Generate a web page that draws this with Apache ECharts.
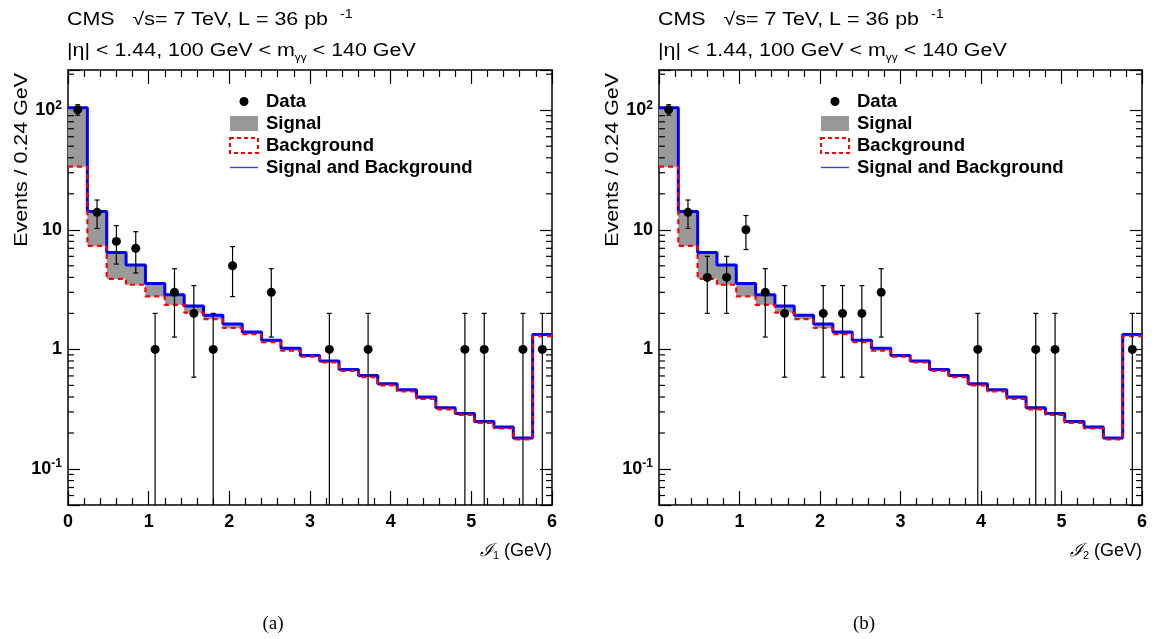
<!DOCTYPE html>
<html><head><meta charset="utf-8">
<script src="https://cdn.jsdelivr.net/npm/echarts@6/dist/echarts.min.js"></script>
<style>html,body{margin:0;padding:0;background:#fff}#c{width:1157px;height:639px}</style>
</head><body><div id="c"></div>
<script>
// ---------- data ----------
const binWidth = 0.24;
const binLow = [0,0.24,0.48,0.72,0.96,1.2,1.44,1.68,1.92,2.16,2.4,2.64,2.88,3.12,3.36,3.6,3.84,4.08,4.32,4.56,4.8,5.04,5.28,5.52,5.76];
const xMax = 6;
// MC: signal + background (blue) and background (red dashed), same in both panels
const mcTotal = [105,14.2,6.45,5.07,3.55,2.86,2.31,1.93,1.63,1.40,1.19,1.02,0.89,0.80,0.68,0.605,0.516,0.46,0.40,0.325,0.291,0.25,0.225,0.182,1.33];
const mcBackground = [33.7,7.35,3.89,3.47,2.77,2.36,2.03,1.79,1.51,1.34,1.15,0.975,0.87,0.78,0.66,0.585,0.50,0.445,0.385,0.315,0.283,0.243,0.218,0.177,1.29];
// observed events per bin
const dataI1 = [101,14,8,7,1,3,2,1,5,0,3,0,0,1,0,1,0,0,0,0,1,1,0,1,1];
const dataI2 = [101,14,4,4,10,3,2,0,2,2,2,3,0,0,0,0,1,0,0,1,1,0,0,0,1];
const xTickLabels = ['0','1','2','3','4','5','6'];
const yTickLabels = {'-1':'10{sup|-1}','0':'1','1':'10','2':'10{sup|2}'};
const yMin = 0.05, yMax = 216.8;

// ---------- layout ----------
const FONT = '"Liberation Sans", Arial, Helvetica, sans-serif';
const panels = [
  {data: dataI1, left: 68, width: 484, sub: '1', caption: '(a)'},
  {data: dataI2, left: 659, width: 483, sub: '2', caption: '(b)'}
];
const gridTop = 70, gridHeight = 435;
const WIDE = 1.19;

const chart = echarts.init(document.getElementById('c'), null, {renderer: 'canvas'});

const minorY = [];
for (let k = -2; k <= 2; k++) for (let m = 2; m <= 9; m++) {
  const v = m * Math.pow(10, k);
  if (v > yMin && v < yMax) minorY.push(v);
}

const grids = [], xAxes = [], yAxes = [], series = [], graphics = [], legends = [];
const axisLineStyle = {color: '#000', width: 1.5};
const tickStyle = {color: '#000', width: 1.2};

panels.forEach((p, g) => {
  grids.push({left: p.left, top: gridTop, width: p.width, height: gridHeight, outerBoundsMode: 'none', containLabel: false});
  const xBase = {gridIndex: g, type: 'value', min: 0, max: xMax, interval: 1,
    axisLine: {onZero: false, lineStyle: axisLineStyle},
    axisTick: {inside: true, length: 14, lineStyle: tickStyle},
    minorTick: {show: true, splitNumber: 5, length: 7, lineStyle: tickStyle},
    splitLine: {show: false}, minorSplitLine: {show: false}};
  xAxes.push(Object.assign({}, xBase, {position: 'bottom',
    axisLabel: {fontSize: 18, fontWeight: 'bold', color: '#000', fontFamily: FONT, margin: 8,
      formatter: v => xTickLabels[Math.round(v)] || ''}}));
  xAxes.push(Object.assign({}, xBase, {position: 'top', axisLabel: {show: false}}));
  const yBase = {gridIndex: g, type: 'log', logBase: 10, min: yMin, max: yMax,
    axisLine: {onZero: false, lineStyle: axisLineStyle},
    axisTick: {inside: true, length: 12, lineStyle: tickStyle},
    splitLine: {show: false}, minorTick: {show: false}};
  yAxes.push(Object.assign({}, yBase, {position: 'left',
    axisLabel: {fontSize: 18, fontWeight: 'bold', color: '#000', fontFamily: FONT, margin: 6,
      formatter: v => {
        const l = Math.log10(v), r = Math.round(l);
        if (Math.abs(l - r) > 1e-6) return '';
        return yTickLabels[String(r)] || '';
      },
      rich: {sup: {fontSize: 12, fontWeight: 'bold', fontFamily: FONT, color: '#000', padding: [0, 0, 10, 0]}}}}));
  yAxes.push(Object.assign({}, yBase, {position: 'right', axisLabel: {show: false}}));

  const xi = g * 2, yi = g * 2;
  // Signal (grey band between background and total)
  series.push({
    name: 'Signal', type: 'custom', xAxisIndex: xi, yAxisIndex: yi, z: 1,
    itemStyle: {color: '#999999'},
    data: binLow.map((x, i) => [x, x + binWidth, mcBackground[i], mcTotal[i]]),
    encode: {x: [0, 1], y: [2, 3]},
    renderItem: (params, api) => {
      const a = api.coord([api.value(0), api.value(3)]);
      const b = api.coord([api.value(1), api.value(2)]);
      return {type: 'rect', shape: {x: a[0], y: a[1], width: b[0] - a[0], height: b[1] - a[1]},
        style: {fill: '#999999'}};
    }
  });
  // Signal and Background (blue step)
  series.push({
    name: 'Signal and Background', type: 'line', step: 'end', xAxisIndex: xi, yAxisIndex: yi, z: 2,
    symbol: 'none', showSymbol: false,
    lineStyle: {color: '#0000ff', width: 3},
    itemStyle: {color: '#0000ff'},
    data: binLow.map((x, i) => [x, mcTotal[i]]).concat([[xMax, mcTotal[mcTotal.length - 1]]])
  });
  // Background (red dashed step)
  series.push({
    name: 'Background', type: 'line', step: 'end', xAxisIndex: xi, yAxisIndex: yi, z: 3,
    symbol: 'none', showSymbol: false,
    lineStyle: {color: '#ff0000', width: 2.2, type: [5, 4]},
    itemStyle: {color: '#ff0000'},
    data: binLow.map((x, i) => [x, mcBackground[i]]).concat([[xMax, mcBackground[mcBackground.length - 1]]])
  });
  // Data error bars (Poisson sqrt(N))
  const pts = [];
  p.data.forEach((n, i) => { if (n > 0) pts.push([binLow[i] + binWidth / 2, n]); });
  series.push({
    name: 'DataErr', type: 'custom', xAxisIndex: xi, yAxisIndex: yi, z: 4, silent: true,
    data: pts.map(d => [d[0], d[1], Math.max(d[1] - Math.sqrt(d[1]), yMin), d[1] + Math.sqrt(d[1])]),
    encode: {x: 0, y: [1, 2, 3]},
    renderItem: (params, api) => {
      const x = api.value(0), lo = api.value(2), hi = api.value(3);
      const top = api.coord([x, hi]), bot = api.coord([x, lo]);
      const st = {stroke: '#000', lineWidth: 1.2};
      const ch = [{type: 'line', shape: {x1: top[0], y1: top[1], x2: bot[0], y2: bot[1]}, style: st},
        {type: 'line', shape: {x1: top[0] - 2.5, y1: top[1], x2: top[0] + 2.5, y2: top[1]}, style: st}];
      if (lo > yMin) ch.push({type: 'line', shape: {x1: bot[0] - 2.5, y1: bot[1], x2: bot[0] + 2.5, y2: bot[1]}, style: st});
      return {type: 'group', children: ch};
    }
  });
  series.push({
    name: 'Data', type: 'scatter', xAxisIndex: xi, yAxisIndex: yi, z: 5,
    symbol: 'circle', symbolSize: 9, itemStyle: {color: '#000', opacity: 1}, data: pts
  });
  // minor log ticks on left and right frame
  series.push({
    name: 'minorTicks', type: 'custom', xAxisIndex: xi, yAxisIndex: yi, z: 6, silent: true,
    data: minorY.map(v => [0, v]),
    renderItem: (params, api) => {
      const l = api.coord([0, api.value(1)]), r = api.coord([xMax, api.value(1)]);
      return {type: 'group', children: [
        {type: 'line', shape: {x1: l[0], y1: l[1], x2: l[0] + 6, y2: l[1]}, style: {stroke: '#000', lineWidth: 1.2}},
        {type: 'line', shape: {x1: r[0] - 6, y1: r[1], x2: r[0], y2: r[1]}, style: {stroke: '#000', lineWidth: 1.2}}]};
    }
  });

  legends.push({
    orient: 'vertical', left: p.left + 156, top: 87, itemWidth: 28, itemHeight: 15, itemGap: 3,
    selectedMode: false,
    textStyle: {fontSize: 18.5, fontWeight: 'bold', color: '#000', fontFamily: FONT, lineHeight: 15, padding: [0, 0, 0, 3]},
    data: [
      {name: 'Data', icon: 'path://M0,0 M28,15 M9.5,7.5 A4.5,4.5 0 1 1 18.5,7.5 A4.5,4.5 0 1 1 9.5,7.5 Z', itemStyle: {color: '#000', borderWidth: 0, opacity: 1}},
      {name: 'Signal', icon: 'rect', itemStyle: {color: '#999999', borderWidth: 0}},
      {name: 'Background', icon: 'rect', itemStyle: {color: '#fff', borderColor: '#ff0000', borderWidth: 2, borderType: [4, 3]}},
      {name: 'Signal and Background', icon: 'path://M0,0 M28,15 M0,6.8 L28,6.8 L28,8.2 L0,8.2 Z', itemStyle: {color: '#3c3cff', borderWidth: 0}}
    ]
  });

  // texts
  const txt = {fill: '#000', fontFamily: FONT, fontSize: 18};
  graphics.push({type: 'text', x: p.left - 1, y: 20, scaleX: WIDE, style: Object.assign({}, txt, {
    text: 'CMS   \u221As= 7 TeV, L = 36 pb  {sup|-1}', textVerticalAlign: 'middle',
    rich: {sup: {fontSize: 12, fontFamily: FONT, fill: '#000', padding: [0, 0, 11, 0]}}})});
  graphics.push({type: 'text', x: p.left - 1, y: 51, scaleX: WIDE, style: Object.assign({}, txt, {
    text: '|\u03B7| < 1.44, 100 GeV < m{sub|\u03B3\u03B3} < 140 GeV', textVerticalAlign: 'middle',
    rich: {sub: {fontSize: 10, fontFamily: FONT, fill: '#000', padding: [14, 0, 0, 0]}}})});
  graphics.push({type: 'text', x: p.left - 46, y: 73, rotation: Math.PI / 2, scaleX: WIDE, style: Object.assign({}, txt, {
    text: 'Events / 0.24 GeV', textAlign: 'right', textVerticalAlign: 'middle'})});
  graphics.push({type: 'text', x: p.left + p.width, y: 551, style: Object.assign({}, txt, {
    text: '{i|\u2110}{s|' + p.sub + '} (GeV)', textAlign: 'right', textVerticalAlign: 'middle',
    rich: {i: {fontSize: 18, fontFamily: 'DejaVu Serif, serif', fontStyle: 'italic', fill: '#000'},
           s: {fontSize: 11, fontFamily: FONT, fill: '#000', padding: [10, 0, 0, 0]}}})});
  graphics.push({type: 'text', x: p.left + 205, y: 624, style: {
    text: p.caption, fill: '#000', fontFamily: '"Liberation Serif", "DejaVu Serif", serif', fontSize: 19,
    textAlign: 'center', textVerticalAlign: 'middle'}});
});

chart.setOption({
  animation: false,
  backgroundColor: '#fff',
  grid: grids, xAxis: xAxes, yAxis: yAxes, series: series,
  legend: legends, graphic: graphics
});
</script></body></html>
